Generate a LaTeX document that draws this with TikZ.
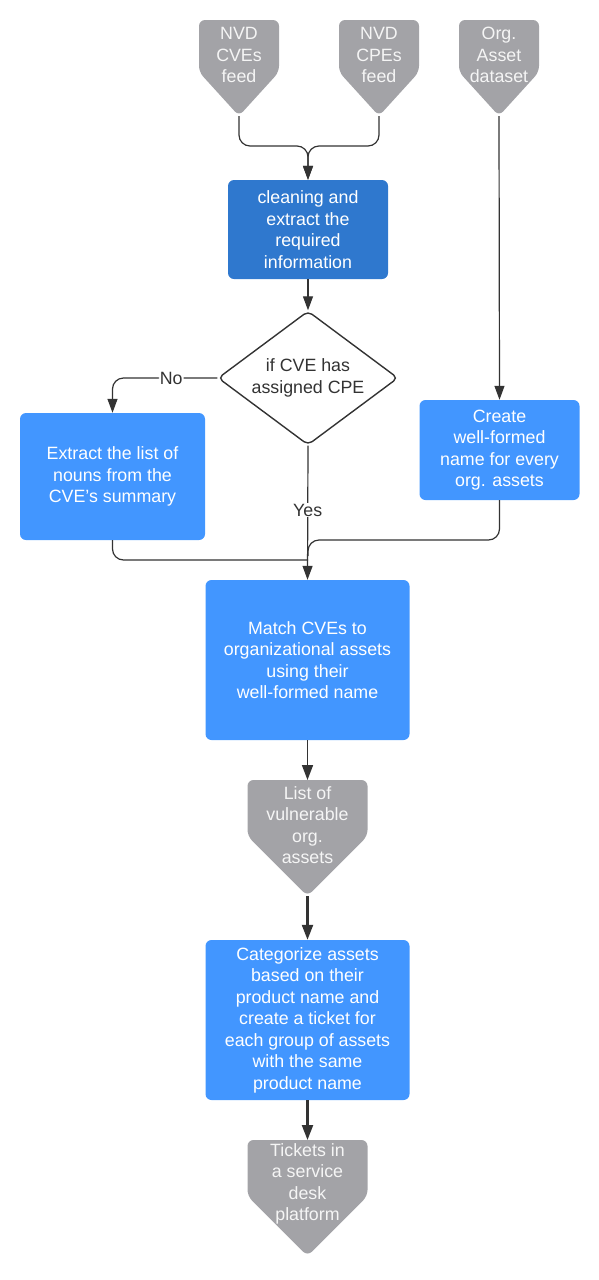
\documentclass[tikz,border=0pt]{standalone}
\usepackage{fontspec}
\setmainfont{Liberation Sans}
\usetikzlibrary{arrows.meta,shapes.geometric}
\definecolor{cgray}{RGB}{163,163,167}
\definecolor{cblue}{RGB}{66,150,255}
\definecolor{cdblue}{RGB}{47,120,206}
\definecolor{cline}{RGB}{51,51,51}
\newcommand{\bodyfont}{\fontsize{17.8}{21.5}\selectfont}
\newcommand{\offpg}[8]{% name, cx, top, halfwidth, side bottom, tip, text centre y, text
  \fill[cgray, rounded corners=6pt] (#2-#4,#3) -- (#2+#4,#3) -- (#2+#4,#5) -- (#2,#6) -- (#2-#4,#5) -- cycle;
  \node[offtext] (#1) at (#2,#7) {#8};
  \coordinate (#1-tip) at (#2,#6);
  \coordinate (#1-top) at (#2,#3);
}
\tikzset{
  box/.style={fill=cblue, rounded corners=6pt, text=white, align=center, font=\bodyfont, inner sep=0pt},
  dbox/.style={box, fill=cdblue},
  offtext/.style={text=white!96!black, align=center, font=\bodyfont, inner sep=0pt},
  conn/.style={draw=cline, line width=1.2pt, rounded corners=11pt, -{Triangle[length=14pt,width=10pt]}},
  plain/.style={draw=cline, line width=1.2pt, rounded corners=11pt},
  thick conn/.style={draw=cline, line width=2.2pt, -{Triangle[length=15pt,width=11pt]}},
  lbl/.style={fill=white, text=cline, font=\bodyfont, inner sep=1pt},
}
\begin{document}
\begin{tikzpicture}[x=1pt,y=-1pt]
\useasboundingbox (0,0) rectangle (599,1280);
% source shapes
\offpg{cve}{239}{20}{40}{72}{116}{55}{NVD\\CVEs\\feed}
\offpg{cpe}{379}{20}{40}{72}{116}{55}{NVD\\CPEs\\feed}
\offpg{org}{499}{20}{40}{72}{116}{55}{Org.\\Asset\\dataset}
% boxes
\node[dbox, minimum width=160pt, minimum height=99pt] (clean) at (308,229.5) {cleaning and\\extract the\\required\\information};
\node[diamond, draw=cline, line width=1.4pt, rounded corners=5pt, minimum width=180pt, minimum height=134pt, inner sep=0pt] (dec) at (308,378) {};
\node[text=cline, align=center, font=\bodyfont] at (dec) {if CVE has\\assigned CPE};
\node[box, minimum width=185pt, minimum height=127pt] (ext) at (112.5,476.5) {Extract the list of\\nouns from the\\CVE's summary};
\node[box, minimum width=160pt, minimum height=100pt] (create) at (499.5,450) {Create\\well-formed\\name for every\\org. assets};
\node[box, minimum width=204pt, minimum height=160pt] (match) at (307.5,660) {Match CVEs to\\organizational assets\\using their\\well-formed name};
\offpg{list}{307.5}{780}{60}{836}{896}{825}{List of\\vulnerable\\org.\\assets}
\node[box, minimum width=204pt, minimum height=160pt] (cat) at (307.5,1020) {Categorize assets\\based on their\\product name and\\create a ticket for\\each group of assets\\with the same\\product name};
\offpg{tick}{307.5}{1140}{60}{1196}{1256}{1184}{Tickets in\\a service\\desk\\platform}
% junction coordinates
\coordinate (m1) at (308,146);
\coordinate (j1) at (308,540);
\coordinate (j1b) at (308,556);
\coordinate (j2) at (308,560);
% connectors
\draw[conn] (cve-tip) |- (m1) -- (clean.north);
\draw[conn] (cpe-tip) |- (m1) -- (clean.north);
\draw[conn, rounded corners=0pt] (clean.south) -- (dec.north);
\draw[conn] (dec.west) -| node[lbl, pos=0.22] {No} (ext.north);
\draw[conn, rounded corners=0pt] (dec.south) -- node[lbl, pos=0.48] {Yes} (match.north);
\draw[conn, rounded corners=0pt] (org-tip) -- (create.north);
\draw[plain] (create.south) |- (j1) -- (j1b);
\draw[plain] (ext.south) |- (j2);
\draw[thick conn, line width=1.6pt] (match.south) -- (list-top);
\draw[thick conn] (list-tip) -- (cat.north);
\draw[thick conn] (cat.south) -- (tick-top);
\end{tikzpicture}
\end{document}
